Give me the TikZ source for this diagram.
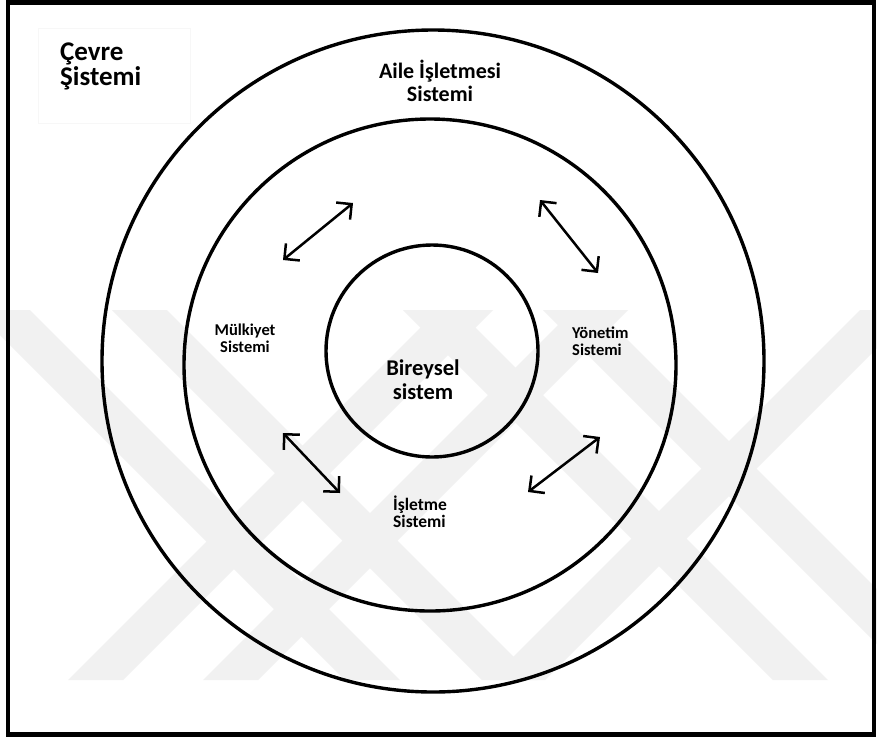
\documentclass[tikz,border=0pt]{standalone}
\usepackage{fontspec}
\setmainfont{Carlito}
\usetikzlibrary{arrows.meta}
\definecolor{wmgray}{gray}{0.945}
\tikzset{
  ring/.style={circle, draw=black, line width=3.4pt, inner sep=0pt},
  band/.style={fill=wmgray, draw=none},
  link/.style={line width=2.5pt, {Straight Barb[length=11pt,width=22pt,line width=2.5pt]}-{Straight Barb[length=11pt,width=22pt,line width=2.5pt]}},
  lbl/.style={inner sep=0pt, font=\bfseries},
}
\begin{document}
\begin{tikzpicture}[x=1pt,y=-1pt]
\useasboundingbox (0,0) rectangle (877,740);
\fill[white] (0,0) rectangle (877,740);

% watermark bands behind the rings
\foreach \t in {-25,112,403,543}
  \fill[band] (\t,310) -- (\t+55,310) -- (\t+425,680) -- (\t+370,680) -- cycle;
\foreach \b in {68,203,490}
  \fill[band] (\b,680) -- (\b+55,680) -- (\b+425,310) -- (\b+370,310) -- cycle;

% frame
\draw[line width=4.5pt] (8,2.5) rectangle (874,734.5);
\draw[black!3, line width=0.6pt] (38,28) rectangle (190,123);

% rings
\node[ring, minimum size=662pt] (outer) at (433,361) {};
\node[ring, minimum size=492pt] (middle) at (430,365) {};
\node[ring, minimum size=212pt] (inner) at (432,351) {};

% labels
\node[lbl, anchor=north west, align=left, font=\bfseries\fontsize{27}{21}\selectfont] (env) at (60,43) {Çevre\\Şistemi};
\node[lbl, anchor=north, align=center, font=\bfseries\fontsize{22}{23}\selectfont] (fam) at (440,59.5) {Aile İşletmesi\\Sistemi};
\node[lbl, anchor=north, align=center, font=\bfseries\fontsize{16.5}{17}\selectfont] (own) at (245,323.5) {Mülkiyet\\Sistemi};
\node[lbl, anchor=north west, align=left, font=\bfseries\fontsize{16.5}{17}\selectfont] (man) at (572,327) {Yönetim\\Sistemi};
\node[lbl, anchor=north, align=center, font=\bfseries\fontsize{22.5}{24}\selectfont] (ind) at (423,360) {Bireysel\\sistem};
\node[lbl, anchor=north west, align=left, font=\bfseries\fontsize{17.5}{17}\selectfont] (bus) at (393,496) {İşletme\\Sistemi};

% two-way arrows between the subsystems
\coordinate (a1) at (283,260); \coordinate (a2) at (353,203);
\coordinate (b1) at (540,200); \coordinate (b2) at (598,273);
\coordinate (c1) at (283,433); \coordinate (c2) at (340,493);
\coordinate (d1) at (600,437); \coordinate (d2) at (528,492);
\draw[link] (a1) -- (a2);
\draw[link] (b1) -- (b2);
\draw[link] (c1) -- (c2);
\draw[link] (d1) -- (d2);
\end{tikzpicture}
\end{document}
